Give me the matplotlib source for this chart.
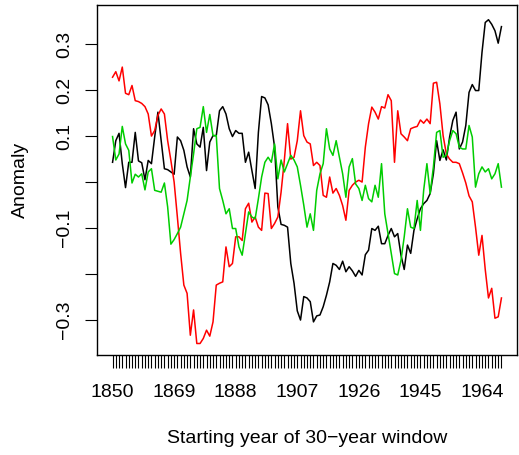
import matplotlib
matplotlib.use("Agg")
import matplotlib.pyplot as plt

plt.rcParams['font.family'] = ['Liberation Sans', 'DejaVu Sans']

years = list(range(1850, 1971))

black = [0.043, 0.090, 0.106, 0.040, -0.012, 0.043, 0.043, 0.108, 0.046, 0.042,
         0.005, 0.047, 0.040, 0.098, 0.152, 0.090, 0.029, 0.027, 0.022, 0.017,
         0.098, 0.090, 0.069, 0.033, 0.011, 0.116, 0.083, 0.076, 0.119, 0.025,
         0.087, 0.101, 0.101, 0.155, 0.164, 0.148, 0.116, 0.099, 0.112, 0.106,
         0.106, 0.043, 0.065, 0.025, -0.014, 0.108, 0.186, 0.183, 0.168, 0.127,
         0.076, -0.054, -0.092, -0.094, -0.098, -0.177, -0.220, -0.280, -0.300, -0.249,
         -0.252, -0.260, -0.304, -0.291, -0.289, -0.271, -0.246, -0.217, -0.177, -0.181,
         -0.190, -0.172, -0.195, -0.184, -0.193, -0.205, -0.192, -0.202, -0.158, -0.148,
         -0.101, -0.105, -0.096, -0.134, -0.134, -0.116, -0.101, -0.119, -0.112, -0.159,
         -0.190, -0.137, -0.155, -0.105, -0.080, -0.058, -0.047, -0.040, -0.025, 0.018,
         0.090, 0.047, 0.070, 0.048, 0.098, 0.134, 0.152, 0.072, 0.087, 0.123,
         0.195, 0.212, 0.199, 0.199, 0.282, 0.347, 0.353, 0.343, 0.329, 0.302,
         0.338]

red = [0.228, 0.240, 0.220, 0.250, 0.193, 0.190, 0.210, 0.177, 0.175, 0.171,
       0.164, 0.148, 0.100, 0.112, 0.145, 0.159, 0.148, 0.090, 0.047, 0.000,
       -0.076, -0.155, -0.224, -0.242, -0.333, -0.278, -0.351, -0.351, -0.340, -0.322,
       -0.335, -0.304, -0.224, -0.220, -0.217, -0.141, -0.184, -0.177, -0.119, -0.119,
       -0.127, -0.058, -0.046, -0.087, -0.076, -0.098, -0.105, -0.024, -0.025, -0.101,
       -0.090, -0.076, -0.022, 0.047, 0.127, 0.050, 0.054, 0.090, 0.155, 0.101,
       0.087, 0.083, 0.036, 0.043, 0.036, -0.029, -0.033, 0.011, -0.024, -0.014,
       -0.029, -0.051, -0.083, -0.018, -0.007, 0.000, 0.004, 0.000, 0.076, 0.127,
       0.163, 0.152, 0.137, 0.164, 0.161, 0.190, 0.177, 0.043, 0.155, 0.105,
       0.098, 0.090, 0.116, 0.119, 0.121, 0.135, 0.128, 0.137, 0.127, 0.215,
       0.217, 0.170, 0.101, 0.061, 0.050, 0.043, 0.043, 0.040, 0.020, -0.002,
       -0.030, -0.043, -0.098, -0.159, -0.116, -0.190, -0.252, -0.231, -0.296, -0.293,
       -0.252]

green = [0.099, 0.048, 0.061, 0.121, 0.083, 0.069, -0.002, 0.017, 0.011, 0.018,
         -0.017, 0.022, 0.029, -0.018, -0.020, -0.022, -0.002, -0.054, -0.135, -0.125,
         -0.112, -0.098, -0.069, -0.040, 0.011, 0.061, 0.116, 0.119, 0.164, 0.108,
         0.147, 0.101, 0.101, -0.014, -0.040, -0.069, -0.058, -0.101, -0.101, -0.141,
         -0.159, -0.112, -0.065, -0.076, -0.080, -0.036, 0.011, 0.043, 0.054, 0.043,
         0.083, 0.007, 0.048, 0.022, 0.040, 0.058, 0.048, 0.033, -0.007, -0.050,
         -0.098, -0.069, -0.105, -0.018, 0.018, 0.040, 0.116, 0.072, 0.058, 0.090,
         0.054, 0.018, -0.033, 0.033, 0.051, -0.004, -0.014, -0.040, -0.007, -0.036,
         -0.043, -0.007, -0.033, 0.040, -0.069, -0.112, -0.155, -0.199, -0.202, -0.170,
         -0.119, -0.058, -0.098, -0.101, -0.040, -0.105, -0.018, 0.040, -0.025, 0.033,
         0.108, 0.112, 0.054, 0.058, 0.090, 0.112, 0.105, 0.076, 0.072, 0.072,
         0.123, 0.098, -0.011, 0.018, 0.033, 0.022, 0.029, 0.007, 0.018, 0.040,
         -0.011]

y_ticks = [-0.3, -0.2, -0.1, 0.0, 0.1, 0.2, 0.3]
y_labels = ["\u22120.3", "", "\u22120.1", "", "0.1", "0.2", "0.3"]
x_label_years = [1850, 1869, 1888, 1907, 1926, 1945, 1964]

fig = plt.figure(figsize=(5.19, 4.55), dpi=100)
ax = fig.add_axes([97 / 519, 1 - 355 / 455, 420 / 519, 350 / 455])

ax.plot(years, black, color="black", lw=1.1)
ax.plot(years, red, color="red", lw=1.1)
ax.plot(years, green, color="#00cd00", lw=1.1)

ax.set_xlim(1845.2, 1974.8)
ax.set_ylim(-0.376, 0.385)

# one tick per year, label only every 19th year
ax.set_xticks(years)
ax.set_xticklabels([str(y) if y in x_label_years else "" for y in years])
ax.set_yticks(y_ticks)
ax.set_yticklabels(y_labels, va="center")

ax.tick_params(axis="x", length=9, width=0.8, pad=12, labelsize=14)
ax.tick_params(axis="y", length=9, width=0.8, pad=8, labelsize=14,
               labelrotation=90)

for s in ax.spines.values():
    s.set_linewidth(1.0)

ax.set_xlabel("Starting year of 30\u2212year window", fontsize=14, labelpad=21)
ax.set_ylabel("Anomaly", fontsize=14, labelpad=20)

fig.savefig("out.png", dpi=100)
